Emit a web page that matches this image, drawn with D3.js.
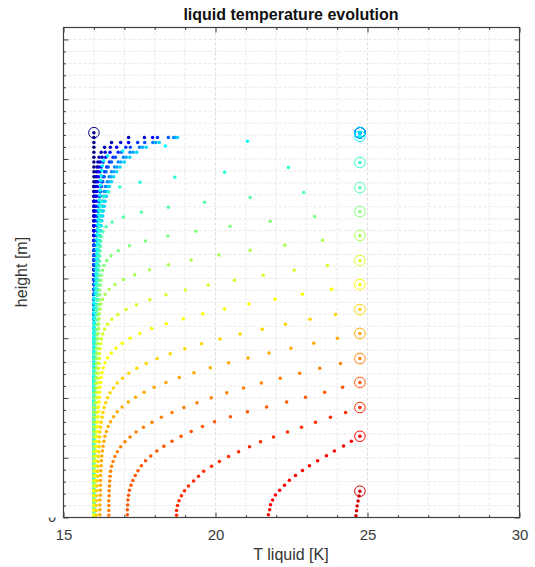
<!DOCTYPE html>
<html>
<head>
<meta charset="utf-8">
<script src="https://cdn.jsdelivr.net/npm/d3@7"></script>
<style>
    body { margin: 0; background: #fff; }
    text { font-family: "Liberation Sans", Arial, sans-serif; }
</style>
</head>
<body>
<div id="wrapper"></div>
<script>
// axis ticks
var tempTicks = [15, 20, 25, 30]
var tempMinorTicks = [16, 17, 18, 19, 21, 22, 23, 24, 26, 27, 28, 29]
var heightTicks = [0, 0.05, 0.1, 0.15, 0.2, 0.25, 0.3, 0.35, 0.4]
var heightMinorTicks = [0.01, 0.02, 0.03, 0.04, 0.06, 0.07, 0.08, 0.09, 0.11, 0.12, 0.13, 0.14,
    0.16, 0.17, 0.18, 0.19, 0.21, 0.22, 0.23, 0.24, 0.26, 0.27, 0.28, 0.29, 0.31, 0.32, 0.33, 0.34,
    0.36, 0.37, 0.38, 0.39]

// solver grid spacing (m) and undisturbed liquid temperature (K)
var nodeSpacing = 0.0041
var bulkTemp = 16.0

// liquid surface height (m) and surface temperature (K) of every saved profile
var surfaceHeights = [0.322, 0.322, 0.322, 0.322, 0.322, 0.322, 0.322, 0.322, 0.322,
    0.319, 0.297, 0.276, 0.256, 0.236, 0.215, 0.195, 0.174, 0.154, 0.133, 0.113, 0.092, 0.068, 0.022]
var surfaceTemps = [16.0, 24.75, 24.75, 24.75, 24.75, 24.75, 24.75, 24.75, 24.75, 24.75, 24.75, 24.75,
    24.75, 24.75, 24.75, 24.75, 24.75, 24.75, 24.75, 24.75, 24.75, 24.75, 24.75]

// node temperatures below the surface, top node first (K); deeper nodes still at bulkTemp
var profile00 = []
var profile01 = [17.14, 16.58, 16.35, 16.24, 16.17, 16.13, 16.10, 16.08, 16.06, 16.05]
var profile02 = [17.66, 16.88, 16.54, 16.37, 16.27, 16.20, 16.16, 16.13, 16.10, 16.09, 16.07, 16.06, 16.05]
var profile03 = [17.93, 17.14, 16.75, 16.53, 16.39, 16.30, 16.24, 16.20, 16.16, 16.14, 16.12, 16.10, 16.09,
    16.08, 16.07, 16.06, 16.06, 16.05]
var profile04 = [18.09, 17.44, 17.05, 16.80, 16.63, 16.51, 16.42, 16.35, 16.30, 16.26, 16.23, 16.20, 16.18,
    16.16, 16.14, 16.13, 16.11, 16.10, 16.10, 16.09, 16.08]
var profile05 = [18.45, 17.67, 17.20, 16.91, 16.71, 16.58, 16.47, 16.40, 16.34, 16.29, 16.25, 16.22, 16.19,
    16.17, 16.15, 16.14, 16.13, 16.11, 16.11, 16.10, 16.09, 16.08]
var profile06 = [18.62, 17.94, 17.50, 17.19, 16.97, 16.80, 16.68, 16.58, 16.50, 16.44, 16.38, 16.34, 16.30,
    16.27, 16.25, 16.22, 16.20, 16.19, 16.17, 16.16, 16.15, 16.14, 16.13, 16.12, 16.11, 16.10, 16.10, 16.09,
    16.09, 16.08]
var profile07 = [18.68, 18.04, 17.60, 17.29, 17.06, 16.89, 16.76, 16.65, 16.57, 16.50, 16.44, 16.39, 16.35,
    16.32, 16.29, 16.26, 16.24, 16.22, 16.20, 16.19, 16.17, 16.16, 16.15, 16.14, 16.13, 16.12, 16.12, 16.11,
    16.10, 16.10, 16.09, 16.09, 16.08]
var profile08 = [18.75, 18.15, 17.72, 17.41, 17.18, 17.00, 16.86, 16.75, 16.65, 16.58, 16.51, 16.46, 16.41,
    16.37, 16.34, 16.31, 16.29, 16.26, 16.24, 16.22, 16.21, 16.19, 16.18, 16.17, 16.16, 16.15, 16.14, 16.13,
    16.13, 16.12, 16.11, 16.11, 16.10, 16.10, 16.09, 16.09, 16.08]
var profile09 = [21.05, 18.35, 16.95, 16.45, 16.32, 16.28, 16.26, 16.24, 16.22, 16.21, 16.20, 16.19, 16.18,
    16.17, 16.16, 16.15, 16.14, 16.13, 16.12, 16.11, 16.10, 16.10, 16.09, 16.09, 16.08, 16.08, 16.07, 16.07,
    16.06, 16.06, 16.05, 16.05]
var profile10 = [22.40, 20.30, 18.66, 17.52, 16.85, 16.48, 16.32, 16.26, 16.23, 16.21, 16.20, 16.19, 16.18,
    16.17, 16.16, 16.15, 16.14, 16.13, 16.12, 16.12, 16.11, 16.10, 16.10, 16.09, 16.09, 16.08, 16.08, 16.07,
    16.07, 16.06, 16.06, 16.05]
var profile11 = [22.90, 21.14, 19.64, 18.45, 17.56, 16.97, 16.60, 16.40, 16.30, 16.25, 16.23, 16.21, 16.20,
    16.19, 16.18, 16.17, 16.16, 16.15, 16.14, 16.13, 16.12, 16.11, 16.11, 16.10, 16.09, 16.09, 16.08, 16.08,
    16.07, 16.07, 16.06, 16.06, 16.05]
var profile12 = [23.26, 21.80, 20.48, 19.35, 18.43, 17.70, 17.17, 16.80, 16.56, 16.42, 16.33, 16.28, 16.25,
    16.23, 16.21, 16.20, 16.19, 16.18, 16.17, 16.16, 16.15, 16.14, 16.13, 16.12, 16.11, 16.11, 16.10, 16.09,
    16.09, 16.08, 16.08, 16.07, 16.07, 16.06, 16.06, 16.05]
var profile13 = [23.52, 22.28, 21.14, 20.11, 19.20, 18.45, 17.83, 17.34, 16.97, 16.69, 16.50, 16.37, 16.28,
    16.23, 16.20, 16.18, 16.17, 16.16, 16.15, 16.14, 16.13, 16.12, 16.12, 16.11, 16.10, 16.10, 16.09, 16.08,
    16.08, 16.07, 16.07, 16.06, 16.06, 16.05]
var profile14 = [23.68, 22.59, 21.57, 20.62, 19.76, 19.01, 18.37, 17.84, 17.40, 17.06, 16.79, 16.59, 16.45,
    16.35, 16.29, 16.25, 16.22, 16.20, 16.19, 16.18, 16.17, 16.16, 16.15, 16.14, 16.13, 16.12, 16.12, 16.11,
    16.10, 16.10, 16.09, 16.08, 16.08, 16.07, 16.07, 16.06, 16.06, 16.05]
var profile15 = [23.82, 22.86, 21.96, 21.10, 20.30, 19.58, 18.94, 18.38, 17.90, 17.51, 17.19, 16.93, 16.73,
    16.57, 16.45, 16.37, 16.31, 16.27, 16.24, 16.22, 16.20, 16.19, 16.18, 16.17, 16.16, 16.15, 16.14, 16.13,
    16.12, 16.11, 16.10, 16.10, 16.09, 16.08, 16.08, 16.07, 16.07, 16.06, 16.06, 16.05, 16.05]
var profile16 = [23.95, 23.11, 22.30, 21.54, 20.81, 20.15, 19.54, 18.99, 18.51, 18.08, 17.72, 17.41, 17.15,
    16.94, 16.77, 16.64, 16.53, 16.45, 16.39, 16.34, 16.30, 16.27, 16.24, 16.22, 16.20, 16.19, 16.18, 16.17,
    16.16, 16.15, 16.14, 16.13, 16.12, 16.12, 16.11, 16.10, 16.10, 16.09, 16.09, 16.08, 16.08, 16.08]
var profile17 = [24.01, 23.23, 22.48, 21.76, 21.07, 20.43, 19.83, 19.29, 18.81, 18.37, 17.98, 17.65, 17.37,
    17.13, 16.93, 16.77, 16.65, 16.55, 16.47, 16.41, 16.36, 16.33, 16.30, 16.28, 16.26, 16.25, 16.24, 16.23,
    16.22, 16.22, 16.21, 16.21, 16.21, 16.20, 16.20, 16.20, 16.20]
var profile18 = [24.11, 23.43, 22.77, 22.13, 21.51, 20.92, 20.37, 19.86, 19.39, 18.96, 18.57, 18.22, 17.91,
    17.63, 17.39, 17.19, 17.02, 16.88, 16.77, 16.69, 16.63, 16.58, 16.55, 16.53, 16.52, 16.51, 16.50, 16.50,
    16.49, 16.49, 16.49, 16.49]
var profile19 = [24.18, 23.59, 22.96, 22.34, 21.68, 21.05, 20.49, 19.97, 19.57, 19.20, 18.87, 18.57, 18.30,
    18.07, 17.87, 17.70, 17.56, 17.45, 17.36, 17.28, 17.22, 17.17, 17.14, 17.12, 17.11, 17.10, 17.10]
var profile20 = [24.28, 23.78, 23.29, 22.83, 22.37, 21.91, 21.48, 21.12, 20.76, 20.43, 20.13, 19.87, 19.61,
    19.44, 19.28, 19.11, 18.98, 18.88, 18.80, 18.75, 18.72, 18.72]
var profile21 = [24.47, 24.21, 23.91, 23.65, 23.36, 23.09, 22.86, 22.63, 22.43, 22.27, 22.11, 21.97, 21.88,
    21.81, 21.78, 21.74]
var profile22 = [24.72, 24.69, 24.66, 24.64, 24.62]

var profiles = [profile00, profile01, profile02, profile03, profile04, profile05, profile06, profile07,
    profile08, profile09, profile10, profile11, profile12, profile13, profile14, profile15, profile16,
    profile17, profile18, profile19, profile20, profile21, profile22]

// matlab style jet colormap
function jet(f) {
    var c = v => Math.round(255 * Math.max(0, Math.min(1, v)))
    return `rgb(${c(1.5 - Math.abs(4 * f - 3))},${c(1.5 - Math.abs(4 * f - 2))},${c(1.5 - Math.abs(4 * f - 1))})`
}

let dimensions = {
    width: 535,
    height: 567,
    margin: { top: 27, right: 16, bottom: 50, left: 63 }
}
dimensions.boundedWidth = dimensions.width - dimensions.margin.left - dimensions.margin.right
dimensions.boundedHeight = dimensions.height - dimensions.margin.top - dimensions.margin.bottom

let svg = d3.select("#wrapper")
    .append("svg")
    .attr("width", dimensions.width)
    .attr("height", dimensions.height)

let bounds = svg.append("g")
    .attr("transform", `translate(${dimensions.margin.left + 0.5},${dimensions.margin.top + 0.5})`)

let x = d3.scaleLinear().domain([15, 30]).range([0, dimensions.boundedWidth])
let y = d3.scaleLinear().domain([0, 0.41]).range([dimensions.boundedHeight, 0])

//grid
let grid = bounds.append("g").attr("class", "grid")
grid.selectAll(".gx")
    .data(tempMinorTicks.concat([20, 25]))
    .enter().append("line")
    .attr("x1", d => x(d)).attr("x2", d => x(d))
    .attr("y1", 0).attr("y2", dimensions.boundedHeight)
    .attr("stroke", d => d % 5 === 0 ? "#d6d6d6" : "#e3e3e3")
    .attr("stroke-width", 0.8)
    .attr("stroke-dasharray", "3,2")
grid.selectAll(".gy")
    .data(heightMinorTicks.concat(heightTicks.slice(1)))
    .enter().append("line")
    .attr("x1", 0).attr("x2", dimensions.boundedWidth)
    .attr("y1", d => y(d)).attr("y2", d => y(d))
    .attr("stroke", "#e2e2e2")
    .attr("stroke-width", 0.8)
    .attr("stroke-dasharray", "3,2")

//axes, ticks inside
function styleAxis(sel) {
    sel.select(".domain").remove()
    sel.selectAll(".tick line").attr("stroke", "#404040")
    sel.selectAll("text")
        .attr("font-family", "Liberation Sans, Arial, sans-serif")
        .attr("font-size", "15px")
        .attr("fill", "#3a3a3a")
}
bounds.append("g")
    .attr("transform", `translate(0,${dimensions.boundedHeight})`)
    .call(d3.axisBottom(x).tickValues(tempTicks).tickSize(-5).tickPadding(12).tickFormat(d3.format("d")))
    .call(styleAxis)
bounds.append("g")
    .attr("transform", `translate(0,${dimensions.boundedHeight})`)
    .call(d3.axisBottom(x).tickValues(tempMinorTicks).tickSize(-2.5).tickFormat(""))
    .call(styleAxis)
bounds.append("g")
    .call(d3.axisTop(x).tickValues(tempTicks).tickSize(-5).tickFormat(""))
    .call(styleAxis)
bounds.append("g")
    .call(d3.axisTop(x).tickValues(tempMinorTicks).tickSize(-2.5).tickFormat(""))
    .call(styleAxis)
bounds.append("g")
    .call(d3.axisLeft(y).tickValues(heightTicks).tickSize(-5).tickFormat(""))
    .call(styleAxis)
bounds.append("g")
    .call(d3.axisLeft(y).tickValues(heightMinorTicks).tickSize(-2.5).tickFormat(""))
    .call(styleAxis)
bounds.append("g")
    .attr("transform", `translate(${dimensions.boundedWidth},0)`)
    .call(d3.axisRight(y).tickValues(heightTicks).tickSize(-5).tickFormat(""))
    .call(styleAxis)
bounds.append("g")
    .attr("transform", `translate(${dimensions.boundedWidth},0)`)
    .call(d3.axisRight(y).tickValues(heightMinorTicks).tickSize(-2.5).tickFormat(""))
    .call(styleAxis)

// the y tick labels are hidden, only the lower edge of "0" shows
svg.append("clipPath").attr("id", "zero-clip")
    .append("rect").attr("x", 40).attr("y", 517.5).attr("width", 20).attr("height", 10)
svg.append("text")
    .attr("clip-path", "url(#zero-clip)")
    .attr("x", dimensions.margin.left - 7)
    .attr("y", dimensions.margin.top + y(0) + 5)
    .attr("text-anchor", "end")
    .attr("font-size", "14px")
    .attr("fill", "#333")
    .text("0")

//profiles
let curves = profiles.map((temps, i) => {
    let hs = surfaceHeights[i]
    let n = Math.floor(hs / nodeSpacing + 1e-6)
    let pts = [{ T: surfaceTemps[i], h: hs }]
    for (let k = 1; k <= n; k++) {
        pts.push({ T: k <= temps.length ? temps[k - 1] : bulkTemp, h: hs - k * nodeSpacing })
    }
    return { color: jet(i / 24), pts: pts }
})

let marks = bounds.append("g").attr("class", "profiles")
curves.forEach(c => {
    let cg = marks.append("g")
    cg.selectAll("circle")
        .data(c.pts)
        .enter()
        .append("circle")
        .attr("cx", d => x(d.T))
        .attr("cy", d => y(d.h))
        .attr("r", 1.75)
        .attr("fill", c.color)
    cg.append("circle")
        .attr("cx", x(c.pts[0].T))
        .attr("cy", y(c.pts[0].h))
        .attr("r", 5.3)
        .attr("fill", "none")
        .attr("stroke", c.color)
        .attr("stroke-width", 1)
})

// box
bounds.append("rect")
    .attr("width", dimensions.boundedWidth)
    .attr("height", dimensions.boundedHeight)
    .attr("fill", "none")
    .attr("stroke", "#404040")
    .attr("stroke-width", 1.2)

//labels
svg.append("text")
    .attr("x", dimensions.margin.left + dimensions.boundedWidth / 2)
    .attr("y", 20)
    .attr("text-anchor", "middle")
    .attr("font-size", "16px")
    .attr("font-weight", "bold")
    .attr("fill", "#111")
    .text("liquid temperature evolution")

svg.append("text")
    .attr("x", dimensions.margin.left + dimensions.boundedWidth / 2)
    .attr("y", 560)
    .attr("text-anchor", "middle")
    .attr("font-size", "16px")
    .attr("fill", "#333")
    .text("T liquid [K]")

svg.append("text")
    .attr("transform", "translate(27,272) rotate(-90)")
    .attr("text-anchor", "middle")
    .attr("font-size", "16px")
    .attr("fill", "#333")
    .text("height [m]")
</script>
</body>
</html>
